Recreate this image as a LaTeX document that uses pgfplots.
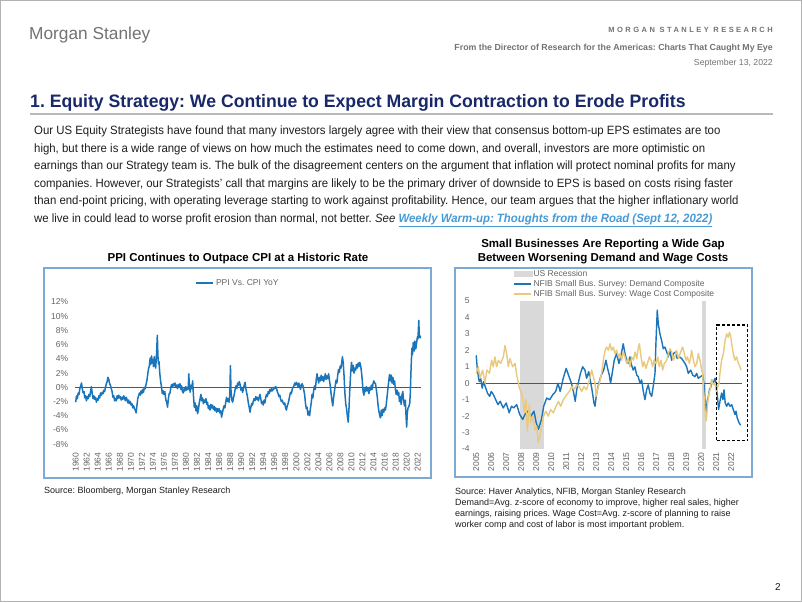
\documentclass[border=0pt]{standalone}
\usepackage{pgfplots}
\pgfplotsset{compat=1.18}
\usepackage{fontspec}
\setmainfont{Liberation Sans}
\newfontfamily\nar[FakeStretch=0.95]{Liberation Sans}
\newfontfamily\ttl[FakeStretch=0.98]{Liberation Sans}
\definecolor{msblue}{RGB}{27,117,187}
\definecolor{msgold}{RGB}{233,202,125}
\definecolor{navy}{RGB}{24,40,105}
\definecolor{frameblue}{RGB}{125,170,212}
\definecolor{linkblue}{RGB}{70,155,215}
\definecolor{txtgray}{RGB}{100,100,100}
\definecolor{hdrgray}{RGB}{115,115,115}
\definecolor{recgray}{RGB}{217,217,217}
\definecolor{zerogray}{RGB}{85,85,85}
\definecolor{bodytxt}{RGB}{30,30,30}
\frenchspacing
\begin{document}
\frenchspacing
\begin{tikzpicture}[x=1pt,y=1pt]
\fill[white] (0,0) rectangle (802,-602);
\draw[gray!60, line width=1pt] (0.5,-0.5) rectangle (801.5,-601.5);
% header
\node[anchor=base west, inner sep=0, text=hdrgray, font=\fontsize{17.3}{17}\selectfont] at (29,-40) {Morgan Stanley};
\node[anchor=base east, inner sep=0, text=hdrgray, font=\fontsize{7.5}{8}\selectfont\bfseries\addfontfeatures{LetterSpace=33}] at (773,-33) {MORGAN STANLEY RESEARCH};
\node[anchor=base east, inner sep=0, text=hdrgray, font=\fontsize{8.8}{9}\selectfont\bfseries] at (773,-50) {From the Director of Research for the Americas: Charts That Caught My Eye};
\node[anchor=base east, inner sep=0, text=hdrgray, font=\fontsize{8.7}{9}\selectfont] at (773,-66) {September 13, 2022};
% title
\node[anchor=base west, inner sep=0, text=navy, font=\ttl\fontsize{18}{20}\selectfont\bfseries] at (30,-107.5) {1. Equity Strategy: We Continue to Expect Margin Contraction to Erode Profits};
\draw[gray!55, line width=1.5pt] (30,-114) -- (773,-114);
% body
\begin{scope}[every node/.style={anchor=base west, inner sep=0, text=bodytxt, font=\nar\fontsize{12}{14}\selectfont}]
\node at (34,-134.5) {Our US Equity Strategists have found that many investors largely agree with their view that consensus bottom-up EPS estimates are too};
\node at (34,-152.1) {high, but there is a wide range of views on how much the estimates need to come down, and overall, investors are more optimistic on};
\node at (34,-169.7) {earnings than our Strategy team is. The bulk of the disagreement centers on the argument that inflation will protect nominal profits for many};
\node at (34,-187.3) {companies. However, our Strategists’ call that margins are likely to be the primary driver of downside to EPS is based on costs rising faster};
\node at (34,-204.9) {than end-point pricing, with operating leverage starting to work against profitability. Hence, our team argues that the higher inflationary world};
\node at (34,-222.5) {we live in could lead to worse profit erosion than normal, not better. \textit{See} {\color{linkblue}\bfseries\itshape\underline{Weekly Warm-up: Thoughts from the Road (Sept 12, 2022)}}};
\end{scope}
% chart titles
\node[anchor=base, inner sep=0, font=\fontsize{11.5}{12}\selectfont\bfseries] at (238,-261) {PPI Continues to Outpace CPI at a Historic Rate};
\node[anchor=base, inner sep=0, font=\fontsize{11.5}{12}\selectfont\bfseries] at (603,-247) {Small Businesses Are Reporting a Wide Gap};
\node[anchor=base, inner sep=0, font=\fontsize{11.5}{12}\selectfont\bfseries] at (603,-261) {Between Worsening Demand and Wage Costs};
% frames
\draw[frameblue, line width=1.2pt] (44,-268) rectangle (431,-478);
\draw[frameblue, line width=1.2pt] (455,-268) rectangle (752,-477);
% sources
\begin{scope}[every node/.style={anchor=base west, inner sep=0, text=bodytxt, font=\fontsize{9}{10}\selectfont}]
\node at (44,-493.5) {Source: Bloomberg, Morgan Stanley Research};
\node at (455,-494) {Source: Haver Analytics, NFIB, Morgan Stanley Research};
\node at (455,-505) {Demand=Avg. z-score of economy to improve, higher real sales, higher};
\node at (455,-516) {earnings, raising prices. Wage Cost=Avg. z-score of planning to raise};
\node at (455,-527) {worker comp and cost of labor is most important problem.};
\end{scope}
\node[anchor=base, inner sep=0, text=bodytxt, font=\fontsize{10}{11}\selectfont] at (778,-590) {2};

% ---------------- chart 1 ----------------
\begin{axis}[at={(75.15pt,-444.2pt)}, anchor=south west, scale only axis,
  width=345.85pt, height=142.3pt,
  xmin=1959.9, xmax=2022.6, ymin=-8, ymax=12,
  axis line style={draw=none}, tick style={draw=none},
  ytick={-8,-6,...,12},
  yticklabels={-8\%,-6\%,-4\%,-2\%,0\%,2\%,4\%,6\%,8\%,10\%,12\%},
  xtick={1960,1962,...,2022},
  xticklabels={1960,1962,1964,1966,1968,1970,1972,1974,1976,1978,1980,1982,1984,1986,1988,1990,1992,1994,1996,1998,2000,2002,2004,2006,2008,2010,2012,2014,2016,2018,2020,2022},
  xticklabel style={rotate=90, anchor=east, font=\fontsize{8.5}{9}\selectfont, text=txtgray},
  xticklabel shift=5pt,
  yticklabel style={font=\fontsize{8.5}{9}\selectfont, text=txtgray},
  yticklabel shift=3.5pt,
  legend style={at={(0.471,1.133)}, anchor=center, draw=none, fill=none,
    font=\fontsize{8.5}{9}\selectfont, text=txtgray, inner sep=0pt},
  ]
\addplot[forget plot, zerogray, line width=0.8pt] coordinates {(1959.9,0) (2022.6,0)};
\addplot[msblue, line width=1.5pt, line join=round] coordinates {
(1960.00,-2.1)(1960.15,-1.2)(1960.30,-1.6)(1960.45,-0.8)(1960.60,-1.0)(1960.75,-0.2)(1960.90,0.2)(1961.05,0.6)(1961.20,-0.2)(1961.35,-0.8)
(1961.50,-0.6)(1961.65,-1.5)(1961.80,-1.2)(1961.95,-1.9)(1962.10,-1.3)(1962.25,-1.6)(1962.40,-1.0)(1962.55,-1.3)(1962.70,-0.6)(1962.85,0.1)
(1963.00,-0.9)(1963.15,-1.6)(1963.30,-1.2)(1963.45,-1.7)(1963.60,-1.4)(1963.75,-2.1)(1963.90,-1.6)(1964.05,-1.8)(1964.20,-1.2)(1964.35,-1.5)
(1964.50,-0.8)(1964.65,-1.1)(1964.80,-0.7)(1964.95,-0.9)(1965.10,-0.4)(1965.25,-0.6)(1965.40,0.0)(1965.55,0.5)(1965.70,0.8)(1965.85,1.4)
(1966.00,1.1)(1966.15,0.5)(1966.30,0.3)(1966.45,-0.2)(1966.60,-0.6)(1966.75,-1.4)(1966.90,-1.2)(1967.05,-1.9)(1967.20,-1.6)(1967.35,-1.9)
(1967.50,-1.2)(1967.65,-1.6)(1967.80,-1.1)(1967.95,-1.5)(1968.10,-1.3)(1968.25,-1.8)(1968.40,-1.4)(1968.55,-1.7)(1968.70,-1.2)(1968.85,-1.5)
(1969.00,-1.9)(1969.15,-1.4)(1969.30,-1.7)(1969.45,-2.2)(1969.60,-1.8)(1969.75,-2.3)(1969.90,-2.0)(1970.05,-2.5)(1970.20,-2.3)(1970.35,-2.9)
(1970.50,-2.6)(1970.65,-3.0)(1970.80,-3.2)(1970.95,-3.6)(1971.10,-2.6)(1971.25,-1.6)(1971.40,-1.2)(1971.55,-0.8)(1971.70,-1.1)(1971.85,-0.5)
(1972.00,-0.9)(1972.15,-0.3)(1972.30,-0.7)(1972.45,0.0)(1972.60,-0.2)(1972.75,0.4)(1972.90,0.9)(1973.05,1.8)(1973.20,2.6)(1973.35,3.0)
(1973.50,4.1)(1973.60,3.2)(1973.75,4.4)(1973.90,3.4)(1974.00,3.9)(1974.10,2.9)(1974.25,4.3)(1974.40,3.1)(1974.50,2.7)(1974.65,4.6)
(1974.80,7.3)(1974.90,4.5)(1975.00,3.3)(1975.10,3.6)(1975.25,1.9)(1975.40,0.8)(1975.55,0.1)(1975.70,-0.9)(1975.85,-0.5)(1976.00,-1.0)
(1976.15,-0.6)(1976.35,-1.8)(1976.50,-2.1)(1976.65,-2.8)(1976.80,-1.6)(1976.95,-0.9)
(1977.10,-0.8)(1977.25,0.0)(1977.40,0.4)(1977.55,0.1)(1977.70,0.5)(1977.85,0.2)(1978.00,0.6)(1978.15,0.1)(1978.30,0.3)(1978.45,-0.2)
(1978.60,0.4)(1978.75,0.0)(1978.90,0.5)(1979.05,-0.3)(1979.20,0.2)(1979.35,-0.6)(1979.50,-0.8)(1979.65,-0.2)(1979.80,-0.5)(1979.95,0.1)
(1980.10,-0.4)(1980.25,0.0)(1980.40,-0.3)(1980.50,1.9)(1980.60,0.4)(1980.75,-0.7)(1980.90,0.3)(1981.05,-0.2)(1981.20,0.9)(1981.35,-1.2)
(1981.50,-2.8)(1981.65,-2.2)(1981.80,-3.3)(1981.95,-2.6)(1982.10,-3.7)(1982.25,-3.1)(1982.40,-2.2)(1982.55,-1.6)(1982.70,-1.0)(1982.85,-1.9)
(1983.00,-1.5)(1983.15,-2.3)(1983.30,-1.8)(1983.45,-2.1)(1983.60,-1.6)(1983.75,-2.4)(1983.90,-2.1)(1984.05,-3.0)(1984.20,-2.6)(1984.35,-3.2)
(1984.50,-2.4)(1984.65,-2.9)(1984.80,-2.5)(1984.95,-3.1)(1985.10,-2.7)(1985.25,-3.3)(1985.40,-2.9)(1985.55,-3.5)(1985.70,-3.0)(1985.85,-3.4)
(1986.00,-3.0)(1986.15,-3.6)(1986.30,-3.3)(1986.45,-4.2)(1986.60,-3.6)(1986.75,-3.0)(1986.90,-2.6)(1987.05,-2.9)(1987.20,-2.1)(1987.35,-1.4)
(1987.50,-2.0)(1987.65,-1.6)(1987.80,-2.1)(1987.95,-1.0)(1988.05,3.05)(1988.15,-0.4)(1988.30,-1.8)(1988.45,-2.1)(1988.60,-1.5)(1988.75,-1.0)
(1988.90,-0.3)(1989.05,0.2)(1989.20,-0.2)(1989.35,0.6)(1989.50,0.3)(1989.65,0.8)(1989.80,0.4)(1989.95,-0.4)(1990.10,0.0)(1990.25,-0.7)
(1990.40,-0.3)(1990.55,0.3)(1990.70,0.7)(1990.85,-0.2)(1991.00,-0.8)(1991.15,-1.4)(1991.30,-2.2)(1991.45,-2.8)(1991.60,-3.5)(1991.75,-2.8)
(1991.90,-2.3)(1992.05,-2.5)(1992.20,-1.9)(1992.35,-1.6)(1992.50,-1.9)(1992.65,-1.3)(1992.80,-1.7)(1992.95,-1.4)(1993.10,-1.9)(1993.25,-1.5)
(1993.40,-1.0)(1993.55,-1.6)(1993.70,-2.3)(1993.85,-2.0)(1994.00,-2.5)(1994.15,-1.8)(1994.30,-2.2)(1994.45,-1.4)(1994.60,-1.0)(1994.75,-1.3)
(1994.90,-0.6)(1995.05,-0.9)(1995.20,-0.3)(1995.35,-0.6)(1995.50,-0.2)(1995.65,-0.5)(1995.80,-0.3)(1995.95,0.0)(1996.10,-0.2)(1996.25,0.1)
(1996.40,-0.1)(1996.55,-0.6)(1996.70,-0.9)(1996.85,-1.3)(1997.00,-1.1)(1997.15,-1.7)(1997.30,-2.0)(1997.45,-1.8)(1997.60,-2.2)(1997.75,-2.4)
(1997.90,-2.2)(1998.05,-2.9)(1998.20,-3.2)(1998.35,-2.6)(1998.50,-2.3)(1998.65,-1.8)(1998.80,-1.2)(1998.95,-0.7)(1999.10,-0.9)(1999.25,-0.3)
(1999.40,0.0)(1999.55,0.2)(1999.70,0.6)(1999.85,0.3)(2000.00,0.7)(2000.15,0.5)(2000.30,0.1)(2000.45,0.6)(2000.60,0.2)(2000.75,-0.3)
(2000.90,0.3)(2001.05,0.5)(2001.20,0.2)(2001.35,-0.4)(2001.50,-1.0)(2001.65,-2.2)(2001.80,-3.0)(2001.95,-2.8)(2002.10,-3.9)(2002.25,-3.4)
(2002.40,-4.0)(2002.55,-3.0)(2002.70,-2.2)(2002.85,-1.0)(2003.00,-1.5)(2003.15,-0.4)(2003.30,0.2)(2003.45,-0.3)(2003.60,1.0)(2003.75,1.9)
(2003.90,1.2)(2004.05,0.6)(2004.20,1.4)(2004.35,0.9)(2004.50,1.7)(2004.65,1.0)(2004.80,1.5)(2004.95,0.8)(2005.10,1.3)(2005.25,1.9)
(2005.40,1.1)(2005.55,1.6)(2005.70,1.2)(2005.85,1.9)(2006.00,1.0)(2006.15,0.2)(2006.30,-0.9)(2006.45,-1.8)(2006.60,-2.6)(2006.75,-1.5)
(2006.90,-0.6)(2007.05,0.2)(2007.20,1.0)(2007.35,0.6)(2007.50,1.7)(2007.65,2.5)(2007.80,2.1)(2007.95,3.0)(2008.10,2.7)(2008.25,3.6)
(2008.35,4.3)(2008.50,3.5)(2008.65,1.6)(2008.80,-0.8)(2008.95,-2.3)(2009.10,-3.0)(2009.25,-4.0)(2009.40,-4.9)(2009.55,-2.9)(2009.70,-0.2)
(2009.85,2.0)(2010.00,3.5)(2010.15,2.3)(2010.30,3.1)(2010.45,2.0)(2010.60,2.7)(2010.75,2.4)(2010.90,3.2)(2011.05,2.7)(2011.20,3.4)
(2011.35,2.9)(2011.50,3.5)(2011.65,3.1)(2011.80,2.2)(2011.95,1.0)(2012.10,-0.6)(2012.25,-1.1)(2012.40,-0.2)(2012.55,-0.6)(2012.70,0.1)
(2012.85,-0.5)(2013.00,-0.2)(2013.15,-0.9)(2013.30,0.0)(2013.45,-0.4)(2013.60,0.3)(2013.75,-0.3)(2013.90,0.5)(2014.05,0.9)(2014.20,0.6)
(2014.35,0.5)(2014.50,-0.3)(2014.65,-1.2)(2014.80,-2.4)(2014.95,-3.3)(2015.10,-3.9)(2015.25,-4.3)(2015.40,-3.2)(2015.55,-4.0)(2015.70,-3.1)
(2015.85,-3.5)(2016.00,-2.9)(2016.15,-3.2)(2016.30,-2.4)(2016.45,-1.3)(2016.60,-0.2)(2016.75,0.9)(2016.90,1.8)(2017.05,0.9)(2017.20,1.7)
(2017.35,0.6)(2017.50,1.4)(2017.65,0.4)(2017.80,0.9)(2017.95,-0.2)(2018.10,-1.0)(2018.25,-0.4)(2018.40,-1.1)(2018.55,-0.7)(2018.70,-2.0)
(2018.85,-1.3)(2019.00,-2.4)(2019.15,-1.1)(2019.30,-0.6)(2019.45,-1.9)(2019.60,-2.6)(2019.75,-1.8)(2019.90,-4.2)(2020.00,-5.6)(2020.12,-3.6)
(2020.25,-2.9)(2020.40,-2.7)(2020.55,-2.3)(2020.65,-1.0)(2020.75,1.5)(2020.85,3.6)(2020.95,5.5)(2021.05,4.6)(2021.20,6.3)(2021.35,5.1)
(2021.50,6.5)(2021.65,5.4)(2021.80,6.2)(2021.95,7.1)(2022.05,6.8)(2022.20,9.4)(2022.30,7.0)(2022.45,7.2)(2022.55,6.9)
};
\addlegendentry{PPI Vs. CPI YoY}
\end{axis}

% ---------------- chart 2 ----------------
\begin{axis}[at={(476.2pt,-449pt)}, anchor=south west, scale only axis,
  width=265.5pt, height=148pt, clip=false,
  xmin=2005, xmax=2022.7, ymin=-4, ymax=5,
  axis line style={draw=none}, tick style={draw=none},
  ytick={-4,-3,...,5},
  yticklabels={-4,-3,-2,-1,0,1,2,3,4,5},
  xtick={2005,2006,...,2022},
  xticklabels={2005,2006,2007,2008,2009,2010,2011,2012,2013,2014,2015,2016,2017,2018,2019,2020,2021,2022},
  xticklabel style={rotate=90, anchor=east, font=\fontsize{8.5}{9}\selectfont, text=txtgray},
  yticklabel style={font=\fontsize{8.5}{9}\selectfont, text=txtgray},
  yticklabel shift=3pt,
  legend style={at={(0.139,1.212)}, anchor=north west, draw=none, fill=none,
    font=\fontsize{8.5}{9}\selectfont, text=txtgray, inner sep=0pt, row sep=1.2pt,
    nodes={inner sep=0.5pt}},
  legend cell align=left,
  ]
\addplot[fill=recgray, draw=none,
  legend image code/.code={\fill[recgray] (0pt,-3pt) rectangle (19pt,3pt);}]
  coordinates {(2007.92,-4) (2007.92,5) (2009.5,5) (2009.5,-4)} -- cycle;
\addlegendentry{US Recession}
\addplot[forget plot, fill=recgray, draw=none] coordinates {(2020.08,-4) (2020.08,5) (2020.33,5) (2020.33,-4)} -- cycle;
\addplot[forget plot, zerogray, line width=0.8pt] coordinates {(2005,0) (2022.7,0)};
\addplot[msblue, line width=1.4pt, line join=round] coordinates {
(2005.0,1.7)(2005.08,0.8)(2005.2,0.1)(2005.3,0.3)(2005.4,-0.3)(2005.5,0.1)(2005.6,-0.2)(2005.75,-0.6)(2005.9,-0.8)(2006.0,-0.5)
(2006.15,-0.7)(2006.3,-1.0)(2006.45,-1.3)(2006.6,-1.1)(2006.8,-1.5)(2007.0,-1.2)(2007.2,-1.8)(2007.35,-1.4)(2007.5,-1.5)(2007.7,-1.3)
(2007.9,-1.9)(2008.1,-2.2)(2008.25,-1.9)(2008.45,-1.7)(2008.65,-2.0)(2008.85,-1.7)(2009.0,-2.4)(2009.15,-2.8)(2009.35,-2.2)(2009.5,-1.4)
(2009.7,-0.9)(2009.9,-1.0)(2010.1,-0.7)(2010.3,-0.5)(2010.45,0.0)(2010.6,-0.5)(2010.8,0.3)(2011.0,0.9)(2011.15,0.5)(2011.35,0.0)
(2011.5,-0.6)(2011.6,-1.1)(2011.7,-0.4)(2011.8,0.0)(2011.95,0.6)(2012.1,1.0)(2012.25,0.8)(2012.36,0.3)(2012.5,0.7)(2012.6,0.2)
(2012.72,-0.4)(2012.85,-1.2)(2012.92,-1.4)(2013.03,-0.6)(2013.15,-0.1)(2013.3,0.4)(2013.5,0.8)(2013.65,1.4)(2013.76,0.9)(2013.87,0.5)
(2013.96,0.0)(2014.1,0.8)(2014.2,1.4)(2014.36,1.8)(2014.52,1.2)(2014.63,1.6)(2014.74,2.1)(2014.8,2.4)(2014.92,1.8)(2015.03,1.4)
(2015.14,1.2)(2015.25,1.6)(2015.36,1.1)(2015.47,0.8)(2015.58,1.0)(2015.7,0.5)(2015.8,0.4)(2015.92,0.0)(2016.03,0.2)(2016.14,-0.5)
(2016.25,-1.0)(2016.36,-0.4)(2016.47,-0.1)(2016.58,-0.6)(2016.7,-0.8)(2016.8,-0.2)(2016.92,0.6)(2016.98,2.4)(2017.07,4.45)(2017.14,3.6)
(2017.25,3.0)(2017.36,2.6)(2017.47,2.1)(2017.58,2.2)(2017.7,1.9)(2017.8,1.6)(2017.92,2.0)(2018.03,1.4)(2018.14,1.8)(2018.3,1.9)
(2018.4,1.5)(2018.55,1.6)(2018.7,1.5)(2018.92,1.2)(2019.03,1.0)(2019.14,0.6)(2019.3,0.8)(2019.43,0.5)(2019.58,0.4)(2019.7,0.6)
(2019.8,0.3)(2019.96,0.4)(2020.1,0.5)(2020.2,-0.2)(2020.25,-1.2)(2020.32,-1.8)(2020.4,-1.1)(2020.48,-0.8)(2020.55,-0.4)(2020.65,-0.2)
(2020.7,0.2)(2020.8,0.0)(2020.92,0.3)(2021.03,-0.2)(2021.1,-1.0)(2021.16,-1.6)(2021.25,-1.1)(2021.36,-0.6)(2021.45,-1.0)(2021.52,-0.4)
(2021.6,-1.2)(2021.7,-1.4)(2021.8,-1.2)(2021.92,-1.4)(2022.03,-1.3)(2022.14,-1.6)(2022.25,-1.9)(2022.32,-1.7)(2022.4,-2.1)(2022.52,-2.4)
(2022.63,-2.55)
};
\addlegendentry{NFIB Small Bus. Survey: Demand Composite}
\addplot[msgold, line width=1.4pt, line join=round] coordinates {
(2005.0,0.6)(2005.14,1.0)(2005.25,0.3)(2005.43,0.8)(2005.59,0.0)(2005.7,0.8)(2005.88,0.6)(2006.03,1.4)(2006.14,1.0)(2006.25,1.6)
(2006.36,1.0)(2006.48,1.4)(2006.63,1.2)(2006.81,1.6)(2006.92,2.3)(2007.03,1.8)(2007.14,1.0)(2007.25,1.5)(2007.43,1.0)(2007.59,1.2)
(2007.7,0.5)(2007.88,-0.3)(2008.03,-0.6)(2008.14,-1.2)(2008.2,-1.8)(2008.32,-1.0)(2008.41,-2.9)(2008.54,-1.3)(2008.63,-2.4)(2008.77,-2.0)
(2008.92,-2.85)(2009.03,-2.6)(2009.14,-3.6)(2009.25,-3.2)(2009.36,-2.65)(2009.48,-2.0)(2009.65,-1.7)(2009.81,-2.0)(2009.96,-1.6)(2010.14,-1.8)
(2010.32,-1.4)(2010.48,-1.1)(2010.63,-1.4)(2010.81,-1.0)(2011.03,-0.7)(2011.21,-0.5)(2011.37,-0.2)(2011.52,-0.4)(2011.7,-0.1)(2011.88,-0.2)
(2012.03,-0.5)(2012.19,-0.2)(2012.36,-0.4)(2012.54,0.2)(2012.7,0.8)(2012.81,0.4)(2012.92,0.0)(2012.99,-0.8)(2013.08,-0.4)(2013.21,0.0)
(2013.36,0.6)(2013.48,1.4)(2013.59,2.0)(2013.7,2.2)(2013.81,2.0)(2013.92,2.4)(2014.03,2.0)(2014.14,2.2)(2014.25,1.8)(2014.36,2.0)
(2014.48,1.6)(2014.59,1.8)(2014.7,1.4)(2014.81,1.9)(2014.92,1.6)(2015.03,1.2)(2015.14,1.5)(2015.25,1.0)(2015.36,1.6)(2015.48,1.4)
(2015.59,1.9)(2015.7,1.5)(2015.81,2.2)(2015.88,2.4)(2015.99,1.6)(2016.1,1.0)(2016.19,1.3)(2016.32,0.9)(2016.41,1.2)(2016.54,1.6)
(2016.65,1.4)(2016.76,1.0)(2016.85,1.4)(2016.99,1.2)(2017.1,1.6)(2017.21,1.0)(2017.32,1.4)(2017.43,0.8)(2017.54,1.2)(2017.7,1.4)
(2017.81,1.8)(2017.92,2.1)(2018.03,1.9)(2018.14,1.4)(2018.25,1.6)(2018.36,2.0)(2018.48,1.5)(2018.59,1.8)(2018.76,2.2)(2018.85,1.9)
(2018.99,1.4)(2019.08,1.6)(2019.21,1.2)(2019.3,1.6)(2019.36,2.0)(2019.48,1.4)(2019.59,1.0)(2019.7,1.2)(2019.81,1.8)(2019.92,1.4)
(2020.03,0.8)(2020.1,0.6)(2020.14,-0.2)(2020.21,-1.0)(2020.28,-2.0)(2020.34,-2.3)(2020.41,-1.4)(2020.48,-0.8)(2020.59,-0.4)(2020.7,0.2)
(2020.81,-0.1)(2020.92,0.0)(2021.03,-0.6)(2021.1,-0.2)(2021.19,0.0)(2021.25,0.6)(2021.36,1.4)(2021.48,1.8)(2021.59,2.6)(2021.7,3.0)
(2021.81,2.8)(2021.88,3.1)(2021.96,2.9)(2022.03,2.4)(2022.14,1.8)(2022.25,1.4)(2022.36,1.6)(2022.48,1.2)(2022.59,1.0)(2022.65,0.8)
};
\addlegendentry{NFIB Small Bus. Survey: Wage Cost Composite}
\addplot[forget plot, black, line width=1.1pt, dash pattern=on 3pt off 2pt] coordinates {(2021.03,-3.5) (2023.1,-3.5) (2023.1,3.54) (2021.03,3.54) (2021.03,-3.5)};
\end{axis}
\end{tikzpicture}
\end{document}
